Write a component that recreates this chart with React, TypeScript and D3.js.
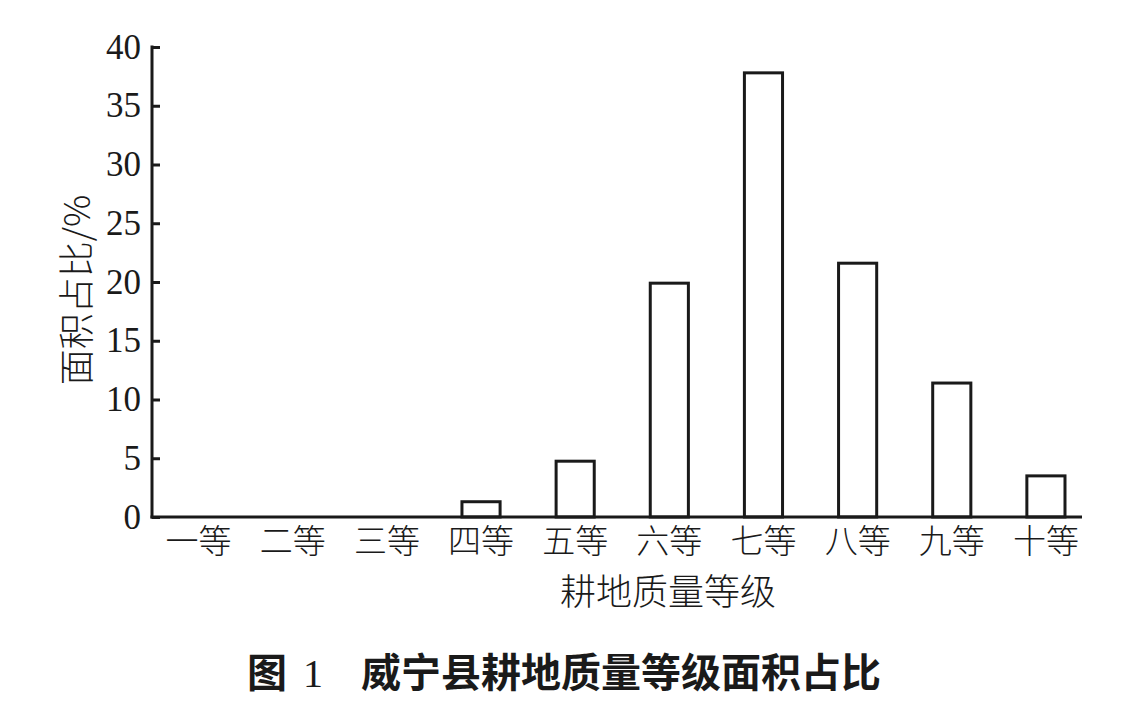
import React, { useEffect, useRef } from 'react';
import * as d3 from 'd3';

const categories = ['一等', '二等', '三等', '四等', '五等', '六等', '七等', '八等', '九等', '十等'];
const shares = [0, 0, 0, 1.3, 4.75, 19.9, 37.8, 21.6, 11.4, 3.5];
const yTicks = [0, 5, 10, 15, 20, 25, 30, 35, 40];

const cjk = '"Noto Sans CJK SC", "Noto Sans", sans-serif';
const serif = '"Liberation Serif", "DejaVu Serif", serif';

const App: React.FC = () => {
  const svgRef = useRef<SVGSVGElement>(null);

  useEffect(() => {
    if (!svgRef.current) return;
    const svg = d3.select(svgRef.current);
    svg.selectAll('*').remove();

    const left = 152;
    const axisRight = 1082;
    const top = 47;
    const bottom = 517;

    const x = d3.scaleBand<string>()
      .domain(categories)
      .range([151.5, 1093])
      .padding(0);

    const y = d3.scaleLinear()
      .domain([0, 40])
      .range([bottom, top]);

    const barW = x.bandwidth() * 0.405;

    // bars
    svg.append('g')
      .selectAll('rect')
      .data(shares.map((v, i) => ({ c: categories[i], v })).filter(d => d.v > 0))
      .enter()
      .append('rect')
      .attr('x', d => (x(d.c) as number) + x.bandwidth() / 2 - barW / 2)
      .attr('y', d => y(d.v))
      .attr('width', barW)
      .attr('height', d => bottom - y(d.v))
      .attr('fill', '#fff')
      .attr('stroke', '#1a1a1a')
      .attr('stroke-width', 3);

    // y axis with ticks pointing inward
    const yAxis = svg.append('g')
      .attr('transform', `translate(${left},0)`)
      .call(d3.axisRight(y).tickValues(yTicks).tickSize(8).tickFormat(() => ''));
    yAxis.select('.domain').remove();
    yAxis.selectAll('line').attr('stroke', '#1a1a1a').attr('stroke-width', 3);

    svg.append('line')
      .attr('x1', left).attr('x2', left)
      .attr('y1', y(40) - 1.5).attr('y2', bottom + 1.5)
      .attr('stroke', '#1a1a1a').attr('stroke-width', 3);

    svg.append('line')
      .attr('x1', left - 1.5).attr('x2', axisRight)
      .attr('y1', bottom).attr('y2', bottom)
      .attr('stroke', '#1a1a1a').attr('stroke-width', 3);

    // y tick labels
    svg.append('g')
      .selectAll('text')
      .data(yTicks)
      .enter()
      .append('text')
      .attr('x', 141)
      .attr('y', d => y(d))
      .attr('dy', '0.33em')
      .attr('text-anchor', 'end')
      .attr('font-family', serif)
      .attr('font-size', 35)
      .attr('fill', '#1a1a1a')
      .text(d => String(d));

    // category labels
    svg.append('g')
      .selectAll('text')
      .data(categories)
      .enter()
      .append('text')
      .attr('x', d => (x(d) as number) + x.bandwidth() / 2)
      .attr('y', 541)
      .attr('dy', '0.36em')
      .attr('text-anchor', 'middle')
      .attr('font-family', cjk)
      .attr('font-weight', 300)
      .attr('font-size', 33)
      .attr('fill', '#1a1a1a')
      .text(d => d);

    // x axis title
    svg.append('text')
      .attr('x', 668)
      .attr('y', 592)
      .attr('dy', '0.36em')
      .attr('text-anchor', 'middle')
      .attr('font-family', cjk)
      .attr('font-weight', 300)
      .attr('font-size', 36)
      .attr('fill', '#1a1a1a')
      .text('耕地质量等级');

    // y axis title
    svg.append('text')
      .attr('transform', 'translate(77,290) rotate(-90)')
      .attr('dy', '0.36em')
      .attr('text-anchor', 'middle')
      .attr('font-family', cjk)
      .attr('font-weight', 300)
      .attr('font-size', 36)
      .attr('fill', '#1a1a1a')
      .text('面积占比/%');

    // figure caption
    svg.append('text')
      .attr('x', 247)
      .attr('y', 673)
      .attr('dy', '0.36em')
      .attr('font-family', cjk)
      .attr('font-weight', 700)
      .attr('font-size', 40)
      .attr('fill', '#1a1a1a')
      .text('图');
    svg.append('text')
      .attr('x', 303)
      .attr('y', 673)
      .attr('dy', '0.36em')
      .attr('font-family', serif)
      .attr('font-size', 40)
      .attr('fill', '#1a1a1a')
      .text('1');
    svg.append('text')
      .attr('x', 361)
      .attr('y', 673)
      .attr('dy', '0.36em')
      .attr('font-family', cjk)
      .attr('font-weight', 700)
      .attr('font-size', 40)
      .attr('fill', '#1a1a1a')
      .text('威宁县耕地质量等级面积占比');
  }, []);

  return (
    <svg
      ref={svgRef}
      width={1129}
      height={719}
      style={{ position: 'absolute', left: 0, top: 0, background: '#fff' }}
    />
  );
};

export default App;
